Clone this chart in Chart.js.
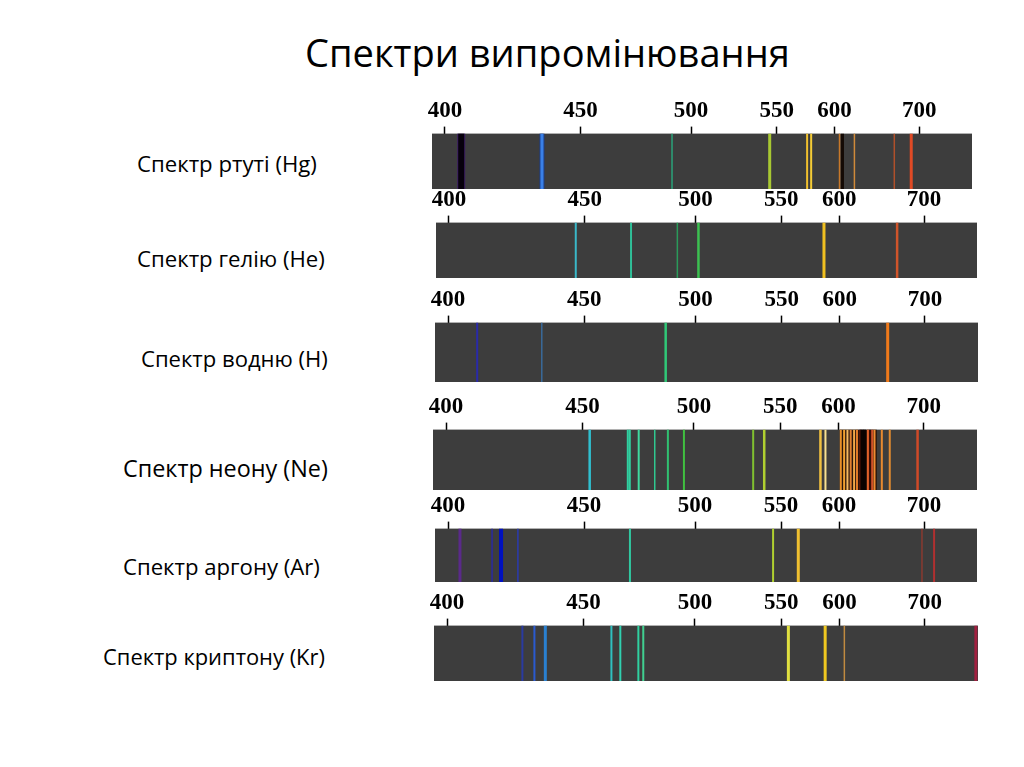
<!DOCTYPE html>
<html>
<head>
<meta charset="utf-8">
<script src="https://cdn.jsdelivr.net/npm/chart.js@4.4.1/dist/chart.umd.min.js"></script>
<style>
  body { margin: 0; width: 1024px; height: 767px; background: #fff; position: relative; overflow: hidden; }
  .txt { position: absolute; white-space: nowrap; color: #000; line-height: 1; font-family: 'Open Sans', sans-serif; }
  .panel { position: absolute; }
  .panel canvas { display: block; }
</style>
</head>
<body>
<div id="title" class="txt">Спектри випромінювання</div>
<script>
// printed wavelength ruler (nm)
const tickLabels = [400, 450, 500, 550, 600, 700];

const spectrumNames = ['Спектр ртуті (Hg)', 'Спектр гелію (He)', 'Спектр водню (H)',
  'Спектр неону (Ne)', 'Спектр аргону (Ar)', 'Спектр криптону (Kr)'];

// line wavelengths (nm)
const hgNm = [406, 406, 435.8, 435.8, 491.4, 545.9, 576.3, 579.8, 605.9, 609.4, 623.5, 670.6, 690.6];
const heNm = [446.7, 470.9, 491.8, 501.7, 586.8, 668.2];
const hNm  = [410.7, 434.4, 486.6, 656.3];
// first entry is the dark band behind the red-orange group
const neNm = [623.3, 453.2, 470.3, 471.2, 475.2, 482.4, 488.3, 495.5, 534.3, 540.7, 584.5, 588.8,
  602.7, 606.6, 610.5, 614.3, 618.3, 621.7, 625.5, 627.5, 630.5, 634.5, 637, 639.5, 642.2, 650.8, 660.1, 692.7];
const arNm = [404.4, 416.2, 419.5, 425.7, 470.7, 545.4, 564.9, 697.6, 711.8];
const krNm = [427.6, 432, 436, 462.5, 466.5, 474.6, 476.8, 556.1, 587.7, 605.7, 759.5];

// line colours
const hgColors = ['#3b1c62', '#07000c', '#1d3f8a', '#3a80e6', '#2aa37a', '#a8c832', '#f2c12e', '#f5cc35', '#c7782a', '#140a05', '#d08a3a', '#b0502a', '#e04a25'];
const heColors = ['#3ab8c8', '#2fbf98', '#2a9a5a', '#3cc050', '#f0c020', '#d0542a'];
const hColors  = ['#2a2aa8', '#3a6a9a', '#30c878', '#f07a1a'];
const neColors = ['#2a150a', '#30c0d0', '#30d0a0', '#30d0a0', '#40d8a0', '#30c890', '#30c070', '#40c040', '#80c030', '#b0d030', '#f0c040', '#f8e090',
  '#e8902a', '#f0a030', '#f4b860', '#e08030', '#f0a848', '#e07a28', '#5a1408', '#0a0200', '#0a0200', '#e0602a', '#3a0a04', '#d05028', '#f08a30',
  '#e88a30', '#e08a30', '#d04a28'];
const arColors = ['#5a2a8a', '#2a2aa0', '#0010c0', '#2a3ab0', '#30c8a0', '#b0d030', '#f0c030', '#8a3a30', '#b03030'];
const krColors = ['#2a3aa0', '#2a5ad0', '#2a80d0', '#30c0c0', '#30d0b0', '#30d0a0', '#40d090', '#e0e040', '#f0c820', '#c08a40', '#a02040'];

const allNm = [hgNm, heNm, hNm, neNm, arNm, krNm];
const allColors = [hgColors, heColors, hColors, neColors, arColors, krColors];

// line widths in px
const lineWidths = [
  [8, 6, 5, 3, 1.5, 3, 2, 2, 1.5, 3, 1.5, 1.5, 3],
  [2, 2, 1.5, 2.5, 3, 2.5],
  [2, 1.5, 2.5, 3],
  [37, 2.5, 2, 2, 2, 1.5, 2, 2, 2, 2.5, 2.5, 2, 2, 2, 2, 2, 2, 2, 2, 3, 3, 2, 1.5, 2, 2, 2, 2, 2.5],
  [3, 1.5, 4, 1.5, 2, 2, 3, 1.5, 2],
  [2, 2, 3, 2, 2, 2, 2, 3, 3, 1.5, 3]
];

// strip boxes on the page: left, top, width, height
const stripBoxes = [[432, 134, 540, 55], [436, 223, 541, 55], [435, 323, 543, 59],
  [433, 430, 544, 60], [435, 529, 542, 53], [434, 626, 544, 55]];
// label boxes: left, baseline, width
const labelBoxes = [[137, 173, 180], [137, 268, 188], [141, 367, 187],
  [123, 478, 205], [123, 575, 197], [103, 665, 222]];

// the printed ruler is not linear: wavelength -> fraction of strip width
const rulerNm   = [395, 400, 450, 500, 550, 600, 700, 762];
const rulerFrac = [0, 13, 149, 260, 346, 404, 489, 542].map(v => v / 542);

function nmToFrac(v) {
  for (let i = 1; i < rulerNm.length; i++) {
    if (v <= rulerNm[i] || i === rulerNm.length - 1) {
      const t = (v - rulerNm[i - 1]) / (rulerNm[i] - rulerNm[i - 1]);
      return rulerFrac[i - 1] + t * (rulerFrac[i] - rulerFrac[i - 1]);
    }
  }
}
function fracToNm(f) {
  for (let i = 1; i < rulerFrac.length; i++) {
    if (f <= rulerFrac[i] || i === rulerFrac.length - 1) {
      const t = (f - rulerFrac[i - 1]) / (rulerFrac[i] - rulerFrac[i - 1]);
      return rulerNm[i - 1] + t * (rulerNm[i] - rulerNm[i - 1]);
    }
  }
}

class RulerScale extends Chart.LinearScale {
  static id = 'ruler';
  getPixelForValue(value) {
    if (value === null || isNaN(value)) return NaN;
    return this.getPixelForDecimal(nmToFrac(value));
  }
  getValueForPixel(pixel) {
    return fracToNm(this.getDecimalForPixel(pixel));
  }
}
Chart.register(RulerScale);

const stripBg = {
  id: 'stripBg',
  beforeDatasetsDraw(chart) {
    const { ctx, chartArea: a } = chart;
    ctx.save();
    ctx.fillStyle = '#3d3d3d';
    ctx.fillRect(a.left, a.top, a.right - a.left, a.bottom - a.top);
    ctx.restore();
  }
};

function fitText(el, left, baseline, width) {
  el.style.fontSize = '40px';
  const w = el.getBoundingClientRect().width;
  const fs = 40 * width / w;
  el.style.fontSize = fs + 'px';
  el.style.left = left + 'px';
  el.style.top = (baseline - 0.888 * fs) + 'px';
}

fitText(document.getElementById('title'), 305, 67, 485);

function buildChart(cv, i) {
  const nm = allNm[i], col = allColors[i], wid = lineWidths[i];
  return new Chart(cv, {
    type: 'line',
    data: {
      datasets: nm.map((v, k) => ({
        data: [{ x: v, y: 0 }, { x: v, y: 1 }],
        borderColor: col[k],
        borderWidth: wid[k],
        borderCapStyle: 'butt',
        pointRadius: 0,
        fill: false,
        order: nm.length - k   // later lines are painted on top
      }))
    },
    options: {
      responsive: false,
      maintainAspectRatio: false,
      animation: false,
      events: [],
      layout: { padding: { left: 20, right: 20, top: 0, bottom: 0 } },
      plugins: { legend: { display: false }, tooltip: { enabled: false } },
      scales: {
        x: {
          type: 'ruler',
          position: 'top',
          min: rulerNm[0],
          max: rulerNm[rulerNm.length - 1],
          afterBuildTicks: s => { s.ticks = tickLabels.map(v => ({ value: v })); },
          grid: { drawOnChartArea: false, drawTicks: true, tickLength: 7, tickWidth: 1.5, tickColor: '#000' },
          border: { display: false },
          ticks: {
            color: '#000',
            padding: 2,
            maxRotation: 0,
            autoSkip: false,
            font: { family: "'Liberation Serif', 'Times New Roman', serif", size: 23, weight: 'bold' }
          }
        },
        y: { display: false, min: 0, max: 1 }
      }
    },
    plugins: [stripBg]
  });
}

function sizeCanvas(cv, w, h) {
  cv.width = w; cv.height = h;
  cv.style.width = w + 'px'; cv.style.height = h + 'px';
}

spectrumNames.forEach((name, i) => {
  const lab = document.createElement('div');
  lab.className = 'txt';
  lab.textContent = name;
  document.body.appendChild(lab);
  const [lx, ly, lw] = labelBoxes[i];
  fitText(lab, lx, ly, lw);

  const [bx, by, bw, bh] = stripBoxes[i];
  const wrap = document.createElement('div');
  wrap.className = 'panel';
  let cv = document.createElement('canvas');
  let cw = bw + 40, ch = bh + 50;
  sizeCanvas(cv, cw, ch);
  wrap.appendChild(cv);
  document.body.appendChild(wrap);

  let chart = buildChart(cv, i);
  // make the plot area exactly the strip size, then put it in place
  const a = chart.chartArea;
  const dw = Math.round(bw - (a.right - a.left)), dh = Math.round(bh - (a.bottom - a.top));
  if (dw || dh) {
    chart.destroy();
    wrap.removeChild(cv);
    cv = document.createElement('canvas');
    cw += dw; ch += dh;
    sizeCanvas(cv, cw, ch);
    wrap.appendChild(cv);
    chart = buildChart(cv, i);
  }
  const b = chart.chartArea;
  wrap.style.left = (bx - b.left) + 'px';
  wrap.style.top = (by - b.top) + 'px';
});
</script>
</body>
</html>
